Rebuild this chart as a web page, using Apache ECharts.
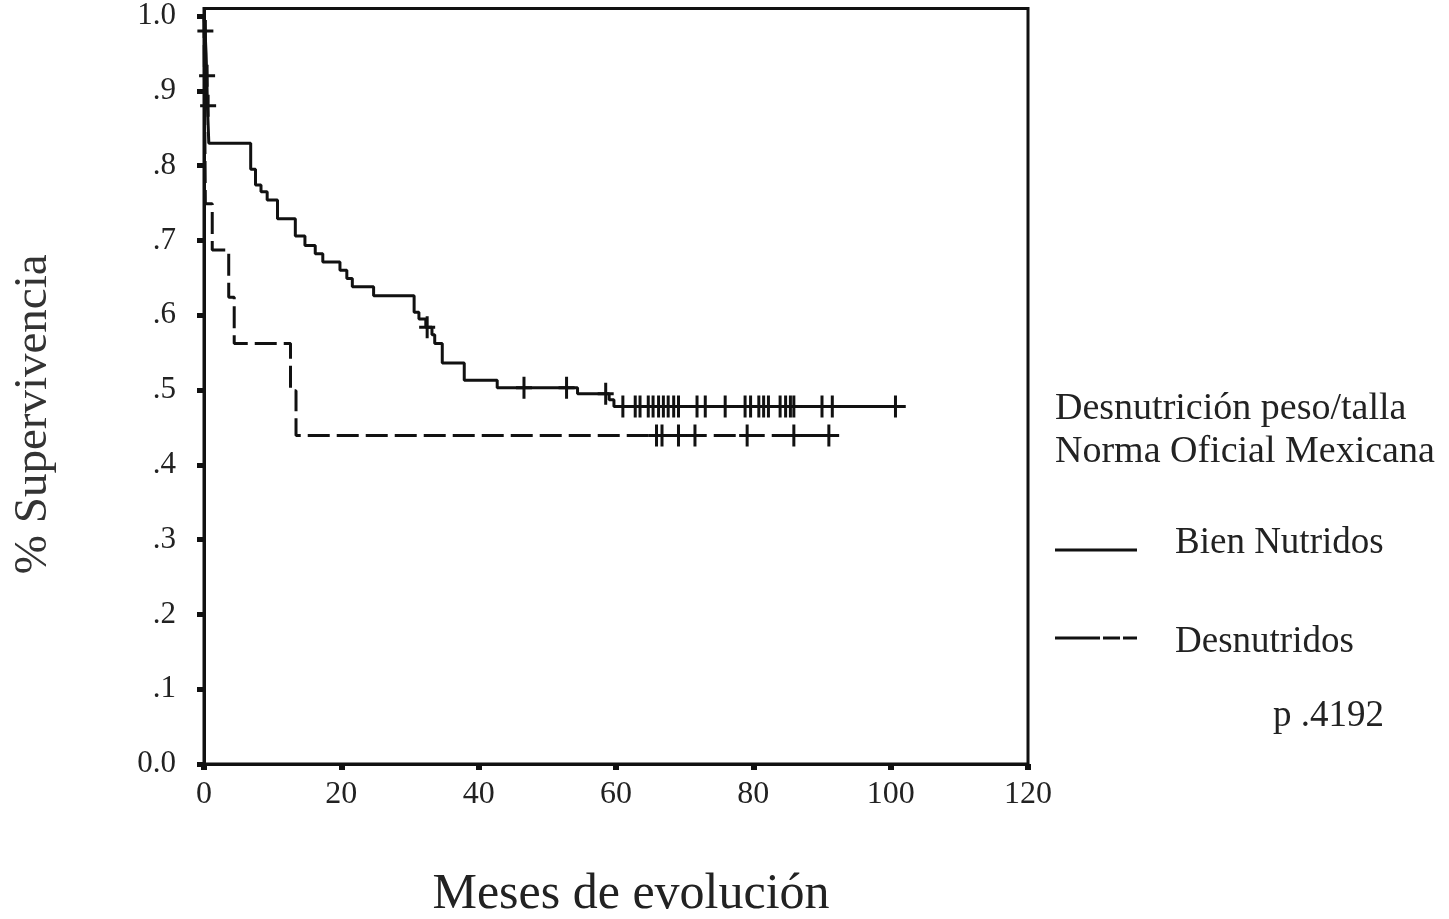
<!DOCTYPE html>
<html>
<head>
<meta charset="utf-8">
<title>Supervivencia por estado nutricional</title>
<script src="https://cdn.jsdelivr.net/npm/echarts@6/dist/echarts.min.js"></script>
<style>
  html, body { margin: 0; padding: 0; background: #ffffff; }
  #chart { width: 1449px; height: 919px; }
</style>
</head>
<body>
<div id="chart"></div>
<script>
// Kaplan-Meier survival curves by nutritional status (peso/talla, Norma Oficial Mexicana)

const seriesNames = ['Bien Nutridos', 'Desnutridos'];

// Step points [mes, supervivencia]: survival falls to the value at that month
const bienNutridosSteps = [
  [0, 1.0], [0.15, 0.98], [0.3, 0.95], [0.4, 0.92], [0.5, 0.88], [0.7, 0.83],
  [6.8, 0.795], [7.5, 0.774], [8.3, 0.765], [9.2, 0.754], [10.7, 0.729],
  [13.3, 0.706], [14.7, 0.693], [16.2, 0.682], [17.3, 0.671], [19.8, 0.660],
  [20.8, 0.649], [21.6, 0.638], [24.7, 0.626], [30.6, 0.604], [31.3, 0.595],
  [32.3, 0.584], [33.2, 0.574], [33.6, 0.562], [34.7, 0.536], [37.9, 0.513],
  [42.7, 0.503], [54.4, 0.495], [59.0, 0.487], [59.7, 0.478], [102.2, 0.478]
];

// Censored observations (months) on each curve
const bienNutridosCensored = [
  0.2, 0.45, 0.6, 32.5, 46.6, 52.8, 58.5,
  61.0, 62.8, 63.5, 64.7, 65.4, 66.2, 66.9, 67.6, 68.4, 69.1,
  71.8, 73.0, 75.9, 78.8, 79.6, 80.8, 81.5, 82.2, 83.9, 84.7, 85.4, 85.9,
  90.0, 91.5, 100.7
];

const desnutridosSteps = [
  [0, 1.0], [0.2, 0.749], [1.2, 0.687], [3.6, 0.624], [4.4, 0.562],
  [12.6, 0.499], [13.4, 0.439], [92.5, 0.439]
];

const desnutridosCensored = [65.9, 66.7, 69.1, 71.5, 79.1, 85.9, 91.0];

const yTickValues = [0, 0.1, 0.2, 0.3, 0.4, 0.5, 0.6, 0.7, 0.8, 0.9, 1.0];
const yTickLabels = ['0.0', '.1', '.2', '.3', '.4', '.5', '.6', '.7', '.8', '.9', '1.0'];

const legendTitle = 'Desnutrición peso/talla\nNorma Oficial Mexicana';
const pValueText = 'p .4192';

// survival level of a step curve at month t
function levelAt(steps, t) {
  let v = steps[0][1];
  for (const [m, s] of steps) {
    if (m <= t) v = s; else break;
  }
  return v;
}

const serif = 'Liberation Serif, Times New Roman, serif';
const ink = '#111111';

// "+" censor mark, 16 x 22, 3px strokes
const plusPath = 'path://M6.5,0 H9.5 V9.5 H16 V12.5 H9.5 V22 H6.5 V12.5 H0 V9.5 H6.5 Z';

// legend keys, 82 x 20 boxes: a solid rule sitting low, and a long-short-short dashed rule sitting high
const solidKey = 'path://M0,0 M82,20 M0,15.5 H82 V18.5 H0 Z';
const dashedKey = 'path://M0,0 M82,20 M0,4.5 H45 V7.5 H0 Z M48,4.5 H65 V7.5 H48 Z M68,4.5 H82 V7.5 H68 Z';

function censorSeries(steps, times) {
  return {
    type: 'scatter',
    data: times.map(t => [t, levelAt(steps, t)]),
    symbol: plusPath,
    symbolSize: [16, 22],
    itemStyle: { color: ink, opacity: 1 },
    silent: true,
    z: 4
  };
}

// one legend block per group
function legendBlock(name, icon, top) {
  return {
    data: [{ name: name, icon: icon }],
    orient: 'vertical',
    left: 1055,
    top: top,
    padding: 0,
    itemWidth: 82,
    itemHeight: 20,
    selectedMode: false,
    itemStyle: { color: ink, borderWidth: 0 },
    textStyle: {
      fontFamily: serif, fontSize: 37, lineHeight: 40, color: '#222',
      padding: [0, 0, 0, 33]
    }
  };
}

const chart = echarts.init(document.getElementById('chart'), null, { renderer: 'canvas' });

chart.setOption({
  animation: false,
  backgroundColor: '#ffffff',
  title: [
    {
      text: legendTitle,
      left: 1055, top: 388, padding: 0,
      textStyle: { fontFamily: serif, fontSize: 38, lineHeight: 43, fontWeight: 'normal', color: '#222' }
    },
    {
      text: pValueText,
      left: 1273, top: 698, padding: 0,
      textStyle: { fontFamily: serif, fontSize: 37, fontWeight: 'normal', color: '#222' }
    }
  ],
  legend: [
    legendBlock(seriesNames[0], solidKey, 523),
    legendBlock(seriesNames[1], dashedKey, 622)
  ],
  grid: {
    left: 204, right: 421, top: 8.5, bottom: 155,
    outerBoundsMode: 'none',
    show: true, borderColor: ink, borderWidth: 3, backgroundColor: 'transparent'
  },
  xAxis: {
    type: 'value',
    min: 0, max: 120, interval: 20,
    name: 'Meses de evolución',
    nameLocation: 'middle',
    nameGap: 106,
    nameTextStyle: { fontFamily: serif, fontSize: 50, color: '#222', padding: [0, 0, 0, 30] },
    axisLine: { show: true, lineStyle: { color: ink, width: 3 } },
    axisTick: { show: true, length: 6, lineStyle: { color: ink, width: 6 } },
    axisLabel: { fontFamily: serif, fontSize: 32, color: '#222', margin: 15 },
    splitLine: { show: false }
  },
  yAxis: {
    type: 'value',
    min: 0, max: 1.01,
    name: '% Supervivencia',
    nameLocation: 'middle',
    nameGap: 147,
    nameTextStyle: { fontFamily: serif, fontSize: 47, color: '#333', padding: [0, 56, 0, 0] },
    axisLine: { show: true, lineStyle: { color: ink, width: 3 } },
    axisTick: { show: true, length: 7, customValues: yTickValues, lineStyle: { color: ink, width: 5 } },
    axisLabel: {
      fontFamily: serif, fontSize: 31, color: '#222', margin: 28,
      customValues: yTickValues,
      formatter: v => {
        const i = yTickValues.findIndex(x => Math.abs(x - v) < 1e-9);
        return i >= 0 ? yTickLabels[i] : '';
      }
    },
    splitLine: { show: false }
  },
  series: [
    {
      name: seriesNames[0],
      type: 'line',
      step: 'end',
      data: bienNutridosSteps,
      symbol: 'none',
      lineStyle: { color: ink, width: 3, type: 'solid' },
      itemStyle: { color: ink },
      z: 3
    },
    {
      name: seriesNames[1],
      type: 'line',
      step: 'end',
      data: desnutridosSteps,
      symbol: 'none',
      lineStyle: { color: ink, width: 3, type: [22, 7] },
      itemStyle: { color: ink },
      z: 3
    },
    censorSeries(bienNutridosSteps, bienNutridosCensored),
    censorSeries(desnutridosSteps, desnutridosCensored)
  ]
});
</script>
</body>
</html>
